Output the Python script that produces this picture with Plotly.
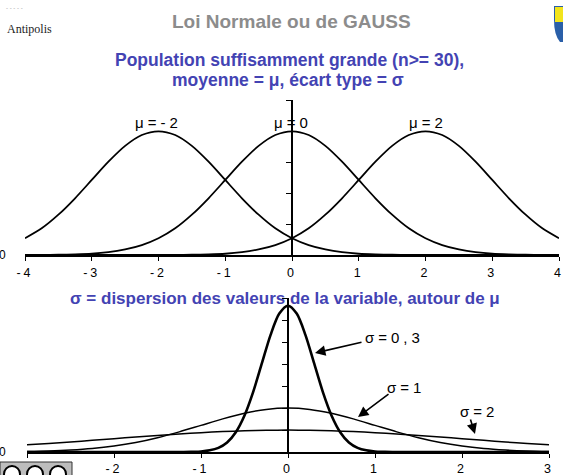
import plotly.graph_objects as go

W, H = 563, 475

# ---------------- data ----------------
x_top = [-4, -3.75, -3.5, -3.25, -3, -2.75, -2.5, -2.25, -2, -1.75, -1.5, -1.25, -1, -0.75,
         -0.5, -0.25, 0, 0.25, 0.5, 0.75, 1, 1.25, 1.5, 1.75, 2, 2.25, 2.5, 2.75, 3, 3.25,
         3.5, 3.75, 4]
y_mu_m2 = [0.054, 0.086, 0.130, 0.183, 0.242, 0.301, 0.352, 0.387, 0.399, 0.387, 0.352, 0.301,
           0.242, 0.183, 0.130, 0.086, 0.054, 0.032, 0.018, 0.009, 0.004, 0.002, 0.001, 0, 0,
           0, 0, 0, 0, 0, 0, 0, 0]
y_mu_0 = [0.000, 0.000, 0.001, 0.002, 0.004, 0.009, 0.018, 0.032, 0.054, 0.086, 0.130, 0.183,
          0.242, 0.301, 0.352, 0.387, 0.399, 0.387, 0.352, 0.301, 0.242, 0.183, 0.130, 0.086,
          0.054, 0.032, 0.018, 0.009, 0.004, 0.002, 0.001, 0.000, 0.000]
y_mu_p2 = [0, 0, 0, 0, 0, 0, 0, 0, 0, 0, 0.001, 0.002, 0.004, 0.009, 0.018, 0.032, 0.054,
           0.086, 0.130, 0.183, 0.242, 0.301, 0.352, 0.387, 0.399, 0.387, 0.352, 0.301, 0.242,
           0.183, 0.130, 0.086, 0.054]
top_labels = ["μ=-2", "μ=0", "μ=2"]

x_bot = [-3, -2.75, -2.5, -2.25, -2, -1.75, -1.5, -1.25, -1, -0.75, -0.5, -0.25, 0, 0.25, 0.5,
         0.75, 1, 1.25, 1.5, 1.75, 2, 2.25, 2.5, 2.75, 3]
y_sig_1 = [0.004, 0.009, 0.018, 0.032, 0.054, 0.086, 0.130, 0.183, 0.242, 0.301, 0.352, 0.387,
           0.399, 0.387, 0.352, 0.301, 0.242, 0.183, 0.130, 0.086, 0.054, 0.032, 0.018, 0.009,
           0.004]
y_sig_2 = [0.065, 0.078, 0.091, 0.106, 0.121, 0.136, 0.151, 0.164, 0.176, 0.186, 0.193, 0.198,
           0.199, 0.198, 0.193, 0.186, 0.176, 0.164, 0.151, 0.136, 0.121, 0.106, 0.091, 0.078,
           0.065]
x_narrow = [-3, -1.2, -1.1, -1.0, -0.9, -0.8, -0.7, -0.6, -0.5, -0.4, -0.3, -0.2, -0.1, 0, 0.1,
            0.2, 0.3, 0.4, 0.5, 0.6, 0.7, 0.8, 0.9, 1.0, 1.1, 1.2, 3]
y_sig_03 = [0, 0.000, 0.002, 0.005, 0.015, 0.038, 0.087, 0.180, 0.332, 0.547, 0.807, 1.065,
            1.258, 1.330, 1.258, 1.065, 0.807, 0.547, 0.332, 0.180, 0.087, 0.038, 0.015, 0.005,
            0.002, 0.000, 0]
bot_labels = ["σ=0,3", "σ=1", "σ=2"]

top_ticks = [-4, -3, -2, -1, 0, 1, 2, 3, 4]
bot_ticks = [-3, -2, -1, 0, 1, 2, 3]

# ---------------- helpers ----------------
def px(x):
    return x / W


def py(y):
    return 1 - y / H


def spaced(t, ls=2):
    return '<span style="letter-spacing:%dpx">%s</span>' % (ls, t)


FONT = "Liberation Sans, Arial, sans-serif"
BLUE = "#4343b3"

fig = go.Figure()
line_top = dict(color="black", width=1.8, shape="spline", smoothing=0.8)
fig.add_trace(go.Scatter(x=x_top, y=y_mu_m2, mode="lines", line=line_top, xaxis="x", yaxis="y"))
fig.add_trace(go.Scatter(x=x_top, y=y_mu_0, mode="lines", line=line_top, xaxis="x", yaxis="y"))
fig.add_trace(go.Scatter(x=x_top, y=y_mu_p2, mode="lines", line=line_top, xaxis="x", yaxis="y"))

fig.add_trace(go.Scatter(x=x_bot, y=y_sig_2, mode="lines",
                         line=dict(color="black", width=1.5, shape="spline", smoothing=0.8),
                         xaxis="x2", yaxis="y2"))
fig.add_trace(go.Scatter(x=x_bot, y=y_sig_1, mode="lines",
                         line=dict(color="black", width=1.5, shape="spline", smoothing=0.8),
                         xaxis="x2", yaxis="y2"))
fig.add_trace(go.Scatter(x=x_narrow, y=y_sig_03, mode="lines",
                         line=dict(color="black", width=2.6, shape="spline", smoothing=0.8),
                         xaxis="x2", yaxis="y2"))

top_xdom = [px(25), px(559)]
top_ydom = [py(255), py(100)]
bot_xdom = [px(27), px(549)]
bot_ydom = [py(452), py(298)]

tickfont = dict(family=FONT, size=12.5, color="black")
common_x = dict(showgrid=False, zeroline=False, ticklen=4, tickwidth=1.2, tickcolor="black",
                automargin=False)
common_y = dict(showgrid=False, zeroline=False, ticklen=5, tickwidth=1.2, tickcolor="black",
                showticklabels=False, automargin=False)

fig.update_layout(
    width=W, height=H, margin=dict(l=0, r=0, t=0, b=0, pad=0, autoexpand=False),
    paper_bgcolor="white", plot_bgcolor="rgba(0,0,0,0)", showlegend=False,
    xaxis=dict(domain=top_xdom, range=[-4, 4], anchor="y", showline=True, linecolor="black",
               linewidth=1.5, ticks="outside", tickvals=top_ticks,
               ticktext=[spaced(str(t), 3) for t in top_ticks], tickfont=tickfont,
               ticklabelstandoff=1, ticklabeloverflow="allow", **common_x),
    yaxis=dict(domain=top_ydom, range=[0, 0.5], anchor="free", position=px(292),
               showline=True, linecolor="black", linewidth=1.5, ticks="outside",
               dtick=0.1, tick0=0, **common_y),
    xaxis3=dict(overlaying="x", range=[-4, 4], anchor="y", showline=False, ticks="inside",
                tickvals=top_ticks, showticklabels=False, **common_x),
    yaxis3=dict(overlaying="y", range=[0, 0.5], anchor="free", position=px(292),
                showline=False, ticks="inside", dtick=0.1, tick0=0, **common_y),
    xaxis2=dict(domain=bot_xdom, range=[-3, 3], anchor="y2", showline=True, linecolor="black",
                linewidth=1.5, ticks="outside", tickvals=bot_ticks,
                ticktext=[spaced(str(t), 3) for t in bot_ticks], tickfont=tickfont,
                ticklabelstandoff=0, ticklabeloverflow="allow", **common_x),
    yaxis2=dict(domain=bot_ydom, range=[0, 1.4], anchor="free", position=px(288),
                showline=True, linecolor="black", linewidth=1.5, ticks="outside",
                dtick=0.2, tick0=0, **common_y),
    xaxis4=dict(overlaying="x2", range=[-3, 3], anchor="y2", showline=False, ticks="inside",
                tickvals=bot_ticks, showticklabels=False, **common_x),
    yaxis4=dict(overlaying="y2", range=[0, 1.4], anchor="free", position=px(288),
                showline=False, ticks="inside", dtick=0.2, tick0=0, **common_y),
)

ann = []


def text(x, y, t, size, color="black", bold=False, family=FONT, xanchor="center"):
    ann.append(dict(x=px(x), y=py(y), xref="paper", yref="paper", text=t, showarrow=False,
                    xanchor=xanchor, yanchor="middle",
                    font=dict(family=family, size=size, color=color,
                              weight="bold" if bold else "normal")))


text(291, 22, "Loi Normale ou de GAUSS", 19, "#8c8c8c", True)
text(289, 60, "Population suffisamment grande (n>= 30),", 17.5, BLUE, True)
text(288, 80, "moyenne = μ, écart type = σ", 17.5, BLUE, True)
text(285, 298, "σ = dispersion des valeurs de la variable, autour de μ", 17, BLUE, True)
text(5, 29, "Antipolis", 12, "#222222", False, "Liberation Serif, serif", "left")
text(4, 8, "- - - - -", 6, "#999999", False, FONT, "left")

# curve labels
text(158, 123, spaced(top_labels[0], 4), 15)
text(293, 123, spaced(top_labels[1], 4), 15)
text(428, 123, spaced(top_labels[2], 4), 15)
text(394, 337, spaced(bot_labels[0], 4), 15)
text(406, 387, spaced(bot_labels[1], 4), 15)
text(479, 411, spaced(bot_labels[2], 4), 15)

# cropped y "0" labels at left edge
text(2, 255, "0", 12)
text(2, 452, "0", 12)

# arrows (head, tail) in pixels
for (hx, hy, tx, ty) in [(315, 353, 363, 342), (358, 417, 390, 393), (475, 434, 470, 418)]:
    ann.append(dict(x=px(hx), y=py(hy), xref="paper", yref="paper", text="",
                    showarrow=True, ax=tx - hx, ay=ty - hy, arrowhead=2, arrowsize=1.3,
                    arrowwidth=1.6, arrowcolor="black"))

fig.update_layout(annotations=ann)

shapes = [
    # logo top right (shield, partially cropped)
    dict(type="path", xref="paper", yref="paper",
         path="M %f %f L %f %f L %f %f L %f %f Q %f %f %f %f Z" % (
             px(554), py(6), px(565), py(6), px(565), py(42), px(560), py(42),
             px(554), py(35), px(554), py(20)),
         fillcolor="#2a5fa8", line=dict(width=0), layer="above"),
    dict(type="rect", xref="paper", yref="paper", x0=px(555), x1=px(565), y0=py(22), y1=py(7),
         fillcolor="#f2e41c", line=dict(width=0), layer="above"),
    # CC logo bottom-left (cropped)
    dict(type="rect", xref="paper", yref="paper", x0=px(0), x1=px(72), y0=py(478), y1=py(462),
         fillcolor="#bdbdbd", line=dict(color="#333333", width=1), layer="above"),
]
for cx in [12, 35, 58]:
    shapes.append(dict(type="circle", xref="paper", yref="paper", x0=px(cx - 8), x1=px(cx + 8),
                       y0=py(482), y1=py(466), fillcolor="white",
                       line=dict(color="black", width=2), layer="above"))
fig.update_layout(shapes=shapes)

fig.write_html("out.html", config={"displayModeBar": False},
               post_script="document.body.style.margin='0';document.body.style.overflow='hidden';")
